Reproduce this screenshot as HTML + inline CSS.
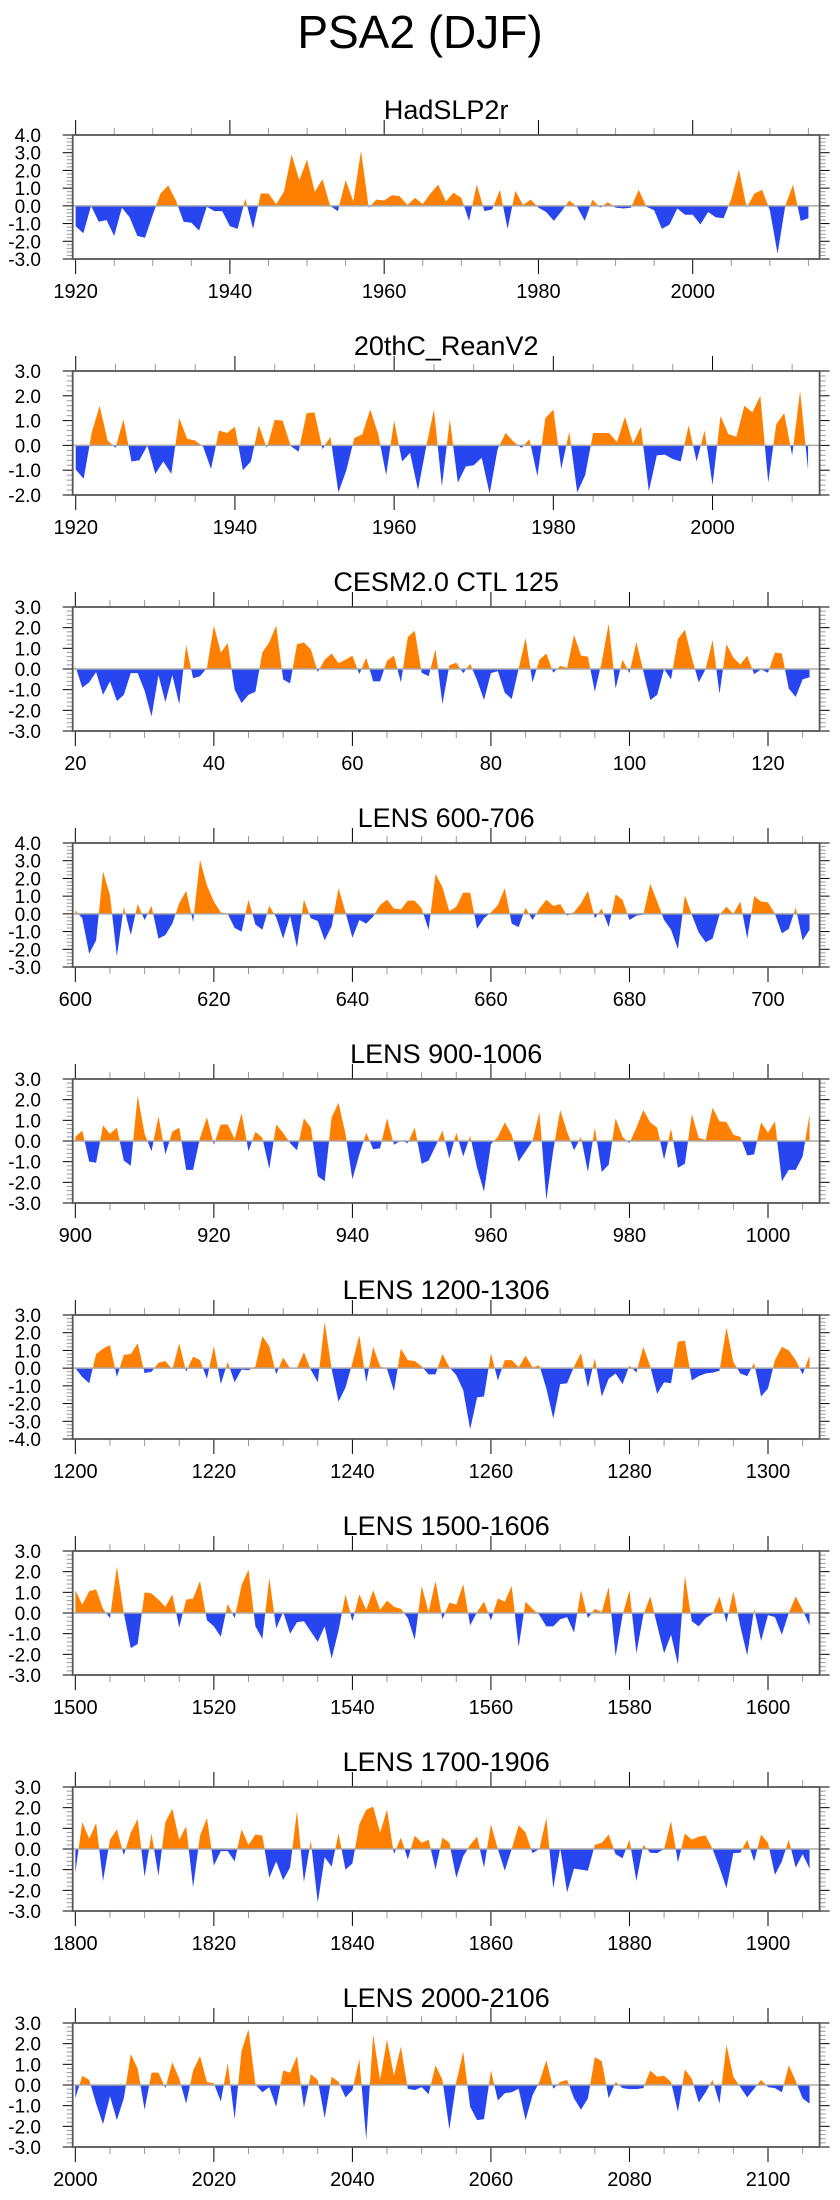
<!DOCTYPE html>
<html><head><meta charset="utf-8">
<style>
html,body{margin:0;padding:0;background:#fff;}
svg{display:block;font-family:"Liberation Sans",Arial,sans-serif;}
</style></head>
<body>
<svg id="fig" width="840" height="2200" viewBox="0 0 840 2200" xmlns="http://www.w3.org/2000/svg">
<text x="420" y="48" font-size="46" text-anchor="middle" fill="#000">PSA2 (DJF)</text>
</svg>
<script>
const titles = ["HadSLP2r","20thC_ReanV2","CESM2.0 CTL 125","LENS 600-706","LENS 900-1006","LENS 1200-1306","LENS 1500-1606","LENS 1700-1906","LENS 2000-2106"];
const startYears = [1920,1920,20,600,900,1200,1500,1800,2000];
const yMins = [-3,-2,-3,-3,-3,-4,-3,-3,-3];
const yMaxs = [4,3,3,4,3,3,3,3,3];
const hadslp = [-1.15,-1.55,0,-0.9,-0.8,-1.7,-0.1,-0.65,-1.7,-1.8,
-0.5,0.7,1.15,0.3,-0.9,-0.95,-1.4,-0.05,-0.3,-0.3,
-1.15,-1.3,0.4,-1.3,0.7,0.7,0.1,0.8,2.9,1.45,
2.6,0.8,1.5,0,-0.3,1.45,0.25,3.1,-0.1,0.35,
0.3,0.6,0.55,0.05,0.45,0.1,0.7,1.2,0.25,0.75,
0.45,-0.85,1.2,-0.3,-0.2,0.9,-1.3,0.85,0.05,0.35,
-0.1,-0.35,-0.85,-0.3,0.3,-0.05,-0.85,0.35,-0.1,0.2,
-0.1,-0.15,-0.1,0.9,-0.05,-0.25,-1.3,-1.05,-0.15,-0.5,
-0.5,-1.05,-0.35,-0.65,-0.7,0.4,2.05,-0.1,0.7,0.9,
-0.25,-2.7,0,1.2,-0.85,-0.7];
const reanV2 = [-0.97,-1.35,0.5,1.6,0.2,-0.1,1.05,-0.65,-0.6,0,
-1.15,-0.65,-1.15,1.1,0.27,0.2,-0.05,-0.95,0.6,0.5,
0.75,-1.0,-0.65,0.8,-0.1,1.03,1.0,-0.03,-0.25,1.3,
1.33,-0.15,0.35,-1.9,-1.0,0.3,0.45,1.45,0.45,-1.2,
1.0,-0.65,-0.3,-1.8,-0.1,1.45,-1.65,1.05,-1.5,-0.85,
-0.8,-0.5,-1.95,-0.15,0.5,0.15,-0.1,0.25,-1.25,1.1,
1.45,-0.95,0.55,-1.9,-1.2,0.5,0.5,0.5,0.13,1.15,
0.08,0.75,-1.85,-0.4,-0.37,-0.55,-0.65,0.8,-0.65,0.6,
-1.6,1.18,0.45,0.35,1.6,1.33,2.0,-1.5,0.85,1.3,
-0.4,2.2,-1.0];
const ctl = [0.15,-0.9,-0.65,-0.15,-1.25,-0.6,-1.55,-1.25,-0.2,-0.2,
-1.05,-2.3,-0.3,-1.6,-0.3,-1.7,1.15,-0.45,-0.35,0.05,
2.1,0.8,1.25,-1.0,-1.65,-1.25,-1.1,0.8,1.3,2.1,
-0.5,-0.7,1.2,1.28,0.95,-0.15,0.45,0.75,0.28,0.45,
0.65,-0.25,0.55,-0.6,-0.6,0.4,0.65,-0.65,1.55,1.85,
-0.18,-0.35,0.95,-1.7,0.18,0.3,-0.2,0.25,-0.55,-1.5,
-0.2,-0.1,-1.15,-1.45,0,1.5,-0.65,0.45,0.75,-0.18,
0.15,0.05,1.65,0.65,0.6,-1.1,0.35,2.2,-0.95,0.45,
-0.2,1.3,-0.1,-1.5,-1.25,0,-0.5,1.45,1.9,0.55,
-0.65,0,1.4,-1.2,1.2,0.55,0.22,0.65,-0.25,-0.02,
-0.18,0.8,0.75,-0.95,-1.35,-0.5,-0.4];
const lens600 = [0.2,-0.25,-2.25,-1.5,2.4,1.05,-2.4,0.4,-1.2,0.55,
-0.35,0.45,-1.4,-1.2,-0.55,0.6,1.3,-0.45,3.05,1.6,
0.7,0.08,0,-0.8,-1.0,0.8,-0.6,-0.9,0.45,-0.2,
-1.4,-0.1,-1.9,0.8,-0.25,-0.4,-1.5,-0.7,1.45,0.1,
-1.35,-0.35,-0.55,-0.15,0.5,0.8,0.3,0.25,0.75,0.75,
0.3,-0.9,2.25,1.5,0.15,0.4,1.2,1.2,-0.85,-0.25,
0.08,0.5,1.45,-0.55,-0.75,0.35,-0.35,0.3,0.8,0.45,
0.55,-0.1,0.1,0.6,1.3,-0.25,0.3,-0.75,1.1,0.8,
-0.35,-0.1,-0.05,1.7,0.7,-0.35,-0.9,-2.0,1.05,-0.05,
-1.05,-1.6,-1.4,-0.05,0.4,0,0.7,-1.4,1.0,0.7,
0.65,0,-1.1,-0.85,0.35,-1.5,-0.9];
const lens900 = [0.2,0.5,-1.0,-1.05,0.75,0.35,0.65,-0.95,-1.2,2.2,
0.35,-0.5,1.2,-0.65,0.45,0.65,-1.4,-1.4,0.15,1.15,
-0.18,0.8,0.8,0.1,1.35,-0.5,0.45,0.15,-1.35,0.8,
0.4,-0.1,-0.45,1.1,0.65,-1.7,-1.95,1.15,1.85,0.35,
-1.85,-0.65,0.4,-0.4,-0.35,1.1,-0.18,0.02,-0.1,0.65,
-1.1,-0.95,-0.25,0.5,-0.85,0.4,-0.75,0.25,-1.3,-2.45,
-0.15,0.2,0.9,0.3,-1.0,-0.5,0,1.4,-2.85,-0.45,
1.5,0.45,-0.45,0.2,-1.5,0.65,-1.5,-1.15,1.1,0.2,
-0.1,0.65,1.5,0.9,0.65,-0.9,0.6,-1.3,-1.1,1.3,
0.15,0.05,1.6,0.95,0.92,0.3,0.2,-0.7,-0.65,0.9,
0.4,0.95,-1.95,-1.4,-1.4,-0.75,1.3];
const lens1200 = [0,-0.5,-0.85,0.8,1.1,1.3,-0.5,0.75,0.8,1.4,
-0.28,-0.2,0.3,0.4,-0.08,1.4,-0.2,0.65,0.45,-0.6,
1.25,-0.9,0.35,-0.8,-0.08,-0.12,0.1,1.8,1.25,-0.35,
0.6,0,0,0.9,-0.1,-0.8,2.6,-0.05,-1.9,-1.1,
0.3,1.85,-0.8,1.2,0.1,-0.05,-1.3,1.1,0.45,0.4,
0.1,-0.35,-0.35,0.8,0.05,-0.4,-1.25,-3.45,-1.65,-1.6,
0.85,-0.7,0.45,0.45,0.05,0.7,0.05,0.15,-1.15,-2.85,
-0.9,-0.85,0.1,0.85,-1.1,0.55,-1.6,-0.6,-0.3,-0.9,
0.15,-0.25,1.2,0.1,-1.45,-0.8,-0.85,1.5,1.55,-0.7,
-0.45,-0.3,-0.25,-0.15,2.3,0.35,-0.3,-0.45,0.3,-1.6,
-1.15,0.45,1.2,1.0,0.45,-0.35,0.7];
const lens1500 = [1.1,0.4,1.05,1.15,0.2,-0.25,2.25,0,-1.7,-1.5,
1.0,0.95,0.65,0.3,0.9,-0.7,0.65,0.7,1.55,-0.35,
-0.65,-1.15,0.45,-0.25,1.35,2.1,-0.65,-1.25,1.7,-0.75,
0.05,-1.0,-0.45,-0.4,-0.9,-1.4,-0.65,-2.2,-0.85,0.9,
-0.4,0.9,0.15,1.1,0.15,0.6,0.3,0.2,-0.25,-1.3,
1.3,0.05,1.55,-0.3,0.5,0.4,1.4,-0.6,0.05,0.55,
-0.35,0.7,0.55,1.3,-1.65,0.55,0.2,-0.1,-0.65,-0.65,
-0.3,-0.2,-0.95,1.1,-0.25,0.2,0.05,1.25,-2.1,-0.1,
1.1,-1.95,-0.1,0.8,-0.6,-1.95,-1.05,-2.5,1.8,-0.4,
-0.65,-0.25,-0.05,0.8,-0.45,1.05,-0.65,-2.05,0.2,-1.35,
-0.1,-0.2,-1.05,0,0.8,0.15,-0.6];
const lens1800 = [-1.15,1.3,0.5,1.25,-1.55,0.45,0.95,-0.3,0.8,1.45,
-1.35,0.75,-1.3,1.3,1.95,0.45,1.1,-1.85,0.65,1.5,
-0.8,-0.1,-0.1,-0.6,0.95,0.2,0.7,0.65,-1.4,-0.6,
-1.5,-0.9,1.85,-1.6,0.4,-2.6,-0.4,-0.85,0.75,-1.0,
-0.7,1.2,1.9,2.05,0.8,1.9,-0.25,0.55,-0.5,0.65,
0.3,0.45,-1.0,0.55,0.3,-1.4,-0.35,0.2,0.6,-0.9,
1.2,0,-1.05,0,1.15,0.8,-0.2,0,1.5,-1.9,
0.05,-2.1,-0.95,-1.0,-1.05,0.2,0.3,0.7,-0.25,-0.45,
0.45,-1.55,0.2,-0.18,-0.2,0,1.35,-0.65,0.75,0.45,
0.6,0.65,0,-0.9,-1.9,-0.2,-0.18,0.45,-0.6,0.7,
0.3,-1.25,-0.6,0.45,-0.9,-0.25,-0.95];
const lens2000 = [-0.65,0.45,0.25,-0.9,-1.9,-0.55,-1.7,-0.65,1.5,0.8,
-1.2,0.6,0.6,-0.15,1.1,0.3,-0.9,0.7,1.4,0.15,
0.08,-0.8,1.05,-1.65,1.65,2.7,0.02,-0.35,-0.1,-1.05,
0.7,0.6,1.4,-1.1,0.52,0.25,-1.6,0.4,0.15,-0.6,
-0.25,1.25,-2.65,2.45,0.25,2.2,0.45,1.85,-0.18,-0.25,
-0.1,-0.45,0.95,0.25,-2.15,0.15,1.6,-1.05,-1.7,-1.65,
0.7,-0.75,-0.4,-0.35,-0.18,-1.7,-0.5,0.15,1.2,-0.18,
0.15,0.25,-0.65,-1.2,-0.65,1.35,1.15,-0.65,0.15,-0.15,
-0.2,-0.2,-0.15,0.7,0.4,0.45,0.15,-1.3,0.75,0.3,
-0.85,-0.35,0.25,-0.9,1.95,0.4,-0.1,-0.6,-0.18,0.25,
-0.1,-0.15,-0.35,0.95,0.2,-0.65,-0.9];
const series = [hadslp, reanV2, ctl, lens600, lens900, lens1200, lens1500, lens1800, lens2000];

const NS = "http://www.w3.org/2000/svg";
const svg = document.getElementById('fig');
const BL = 72.7, BR = 819.6, BH = 124, TOP0 = 135, STEP = 236;

function mk(tag, attrs, parent) {
  const e = document.createElementNS(NS, tag);
  for (const k in attrs) e.setAttribute(k, attrs[k]);
  parent.appendChild(e);
  return e;
}

series.forEach((vals, p) => {
  const top = TOP0 + STEP * p, bot = top + BH;
  const start = startYears[p], n = vals.length;
  const xmin = start - 0.38, xmax = start + n + 0.45;
  const ymin = yMins[p], ymax = yMaxs[p];
  const xs = v => BL + (v - xmin) / (xmax - xmin) * (BR - BL);
  const ys = v => bot - (v - ymin) / (ymax - ymin) * BH;
  const g = mk('g', {}, svg);
  
  

  const t = mk('text', {x: (BL + BR) / 2, y: top - 16, 'font-size': 27, 'text-anchor': 'middle', fill: '#000'}, g);
  t.textContent = titles[p];
  
  

  // clip paths
  const z = ys(0);
  const defs = mk('defs', {}, g);
  const c1 = mk('clipPath', {id: 'pos' + p}, defs);
  mk('rect', {x: BL, y: top, width: BR - BL, height: z - top}, c1);
  const c2 = mk('clipPath', {id: 'neg' + p}, defs);
  mk('rect', {x: BL, y: z, width: BR - BL, height: bot - z}, c2);

  let d = 'M' + xs(start).toFixed(2) + ',' + z.toFixed(2);
  vals.forEach((v, i) => { d += ' L' + xs(start + i).toFixed(2) + ',' + ys(v).toFixed(2); });
  d += ' L' + xs(start + n - 1).toFixed(2) + ',' + z.toFixed(2) + ' Z';
  const a1 = mk('path', {d: d, fill: '#ff8000', 'clip-path': 'url(#pos' + p + ')'}, g);
  
  
  const a2 = mk('path', {d: d, fill: '#2846ef', 'clip-path': 'url(#neg' + p + ')'}, g);
  
  

  const zl = mk('line', {x1: BL, x2: BR, y1: z, y2: z, stroke: '#a8a8a8', 'stroke-width': 1.5}, g);
  
  

  // y ticks
  for (let k = Math.round(ymin * 5); k <= Math.round(ymax * 5); k++) {
    const v = k / 5, yy = ys(v), major = (k % 5 === 0);
    const len = major ? 10 : 6, col = major ? '#000' : '#999';
    mk('line', {x1: BL - len, x2: BL, y1: yy, y2: yy, stroke: col, 'stroke-width': 1}, g);
    mk('line', {x1: BR, x2: BR + len, y1: yy, y2: yy, stroke: col, 'stroke-width': 1}, g);
    if (major) {
      const lb = mk('text', {x: 41, y: yy + 7, 'font-size': 19, 'text-anchor': 'end', fill: '#000'}, g);
      lb.textContent = v.toFixed(1);
      
      
    }
  }
  // x ticks
  for (let yr = Math.ceil(xmin / 5) * 5; yr <= xmax; yr += 5) {
    const xx = xs(yr), major = ((yr - start) % 20 === 0);
    const len = major ? 15 : 7, col = major ? '#000' : '#999';
    mk('line', {x1: xx, x2: xx, y1: top - len, y2: top, stroke: col, 'stroke-width': 1}, g);
    mk('line', {x1: xx, x2: xx, y1: bot, y2: bot + len, stroke: col, 'stroke-width': 1}, g);
    if (major) {
      const lb = mk('text', {x: xx, y: bot + 39, 'font-size': 20, 'text-anchor': 'middle', fill: '#000'}, g);
      lb.textContent = String(yr);
      
      
    }
  }
  const box = mk('rect', {x: BL, y: top, width: BR - BL, height: BH, fill: 'none', stroke: '#555', 'stroke-width': 1.8}, g);
  
  
});
</script>
</body></html>
